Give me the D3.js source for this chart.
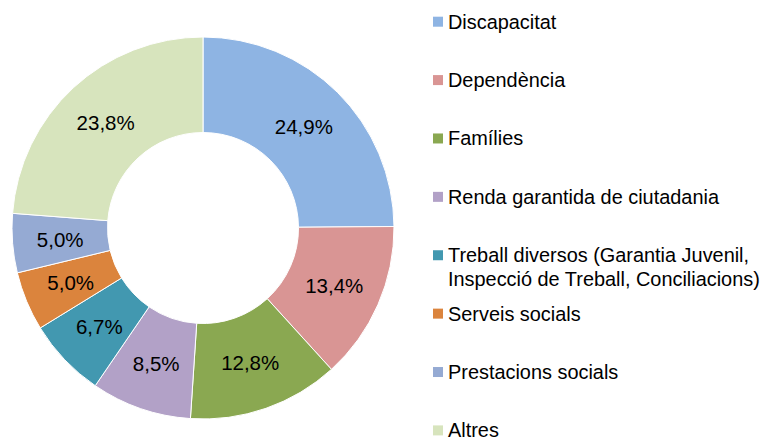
<!DOCTYPE html>
<html lang="ca">
<head>
  <meta charset="UTF-8">
  <title>Distribució per àmbits</title>
  <script src="https://d3js.org/d3.v7.min.js"></script>
  <style>
    body {
      margin: 0;
      background: #fff;
      font-family: "Liberation Sans", Arial, sans-serif;
    }
    .slice-label {
      font-size: 20.5px;
      fill: #000;
    }
    .legend text {
      font-size: 19.9px;
      fill: #000;
    }
  </style>
</head>
<body>
  <div id="chart"></div>
  <script>
    const categories = ["Discapacitat", "Dependència", "Famílies", "Renda garantida de ciutadania",
      "Treball diversos (Garantia Juvenil,|Inspecció de Treball, Conciliacions)",
      "Serveis socials", "Prestacions socials", "Altres"];
    const values = [24.9, 13.4, 12.8, 8.5, 6.7, 5.0, 5.0, 23.8];
    const colors = ["#8eb4e3", "#d99594", "#8aa851", "#b2a1c7", "#4298b0", "#db843d", "#95aad3", "#d7e4bd"];

    const width = 763, height = 439;
    const cx = 203, cy = 228, outerR = 191, innerR = 95.5;

    const svg = d3.select("#chart")
      .append("svg")
      .attr("width", width)
      .attr("height", height);

    const data = categories.map((c, i) => ({name: c, value: values[i], color: colors[i]}));

    const pie = d3.pie().sort(null).value(d => d.value);
    const arc = d3.arc().innerRadius(innerR).outerRadius(outerR);

    const g = svg.append("g")
      .attr("transform", "translate(" + cx + "," + cy + ")");

    const arcs = pie(data);

    g.selectAll("path")
      .data(arcs)
      .enter().append("path")
      .attr("d", arc)
      .attr("fill", d => d.data.color)
      .attr("stroke", "#fff")
      .attr("stroke-width", 1);

    const fmt = v => v.toFixed(1).replace(".", ",") + "%";

    g.selectAll(".slice-label")
      .data(arcs)
      .enter().append("text")
      .attr("class", "slice-label")
      .attr("text-anchor", "middle")
      .attr("dy", "0.35em")
      .attr("x", d => arc.centroid(d)[0])
      .attr("y", d => arc.centroid(d)[1])
      .text(d => fmt(d.data.value));

    // legend
    const legendY = d3.scalePoint()
      .domain(categories)
      .range([21.7, 430.4]);

    const legend = svg.append("g").attr("class", "legend");

    const item = legend.selectAll("g")
      .data(data)
      .enter().append("g")
      .attr("transform", d => "translate(433," + legendY(d.name) + ")");

    item.append("rect")
      .attr("x", 0)
      .attr("y", -5)
      .attr("width", 10)
      .attr("height", 10)
      .attr("fill", d => d.color);

    item.each(function (d) {
      const lines = d.name.split("|");
      const t = d3.select(this).append("text")
        .attr("x", 15)
        .attr("y", 7);
      lines.forEach((l, i) => {
        t.append("tspan")
          .attr("x", 15)
          .attr("dy", i === 0 ? 0 : 23.5)
          .text(l);
      });
    });
  </script>
</body>
</html>
